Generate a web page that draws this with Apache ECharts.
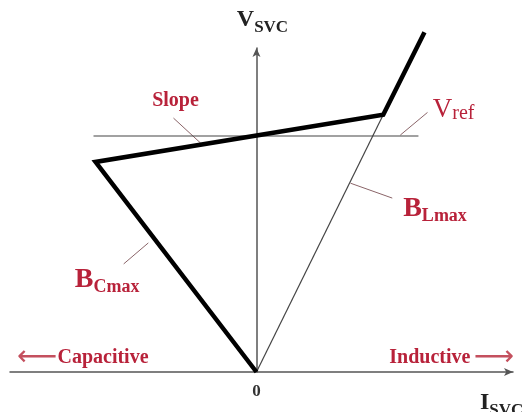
<!DOCTYPE html>
<html>
<head>
<meta charset="utf-8">
<script src="https://cdn.jsdelivr.net/npm/echarts@6/dist/echarts.min.js"></script>
<style>
html, body { margin: 0; padding: 0; background: #fff; }
#chart { width: 523px; height: 412px; }
</style>
</head>
<body>
<div id="chart"></div>
<script>
// SVC V-I characteristic (per-unit)
const currentPu = [0, -3.2, 2.52, 3.34]   // origin -> BCmax knee -> BLmax knee -> top
const voltagePu = [0, 0.89, 1.09, 1.44]
const vRef = 1.0
const vRefSpan = [-3.24, 3.22]
const bLmaxI = [0, 2.52]
const bLmaxV = [0, 1.09]
const xTickLabels = ['0']

const red = '#b8223a'
const serif = 'Liberation Serif'

const zip = (a, b) => a.map((v, i) => [v, b[i]])

// annotation anchors (data coords) and leader segments
const notes = [
  { value: [-1.61, 1.15], text: '{t|Slope}' },
  { value: [3.92, 1.11], text: '{big|V}{sub|ref}' },
  { value: [3.55, 0.686], text: '{bb|B}{bs|Lmax}' },
  { value: [-2.97, 0.386], text: '{bb|B}{bs|Cmax}' },
  { value: [-3.45, 0.062], text: '{a|⟵}{t|Capacitive}' },
  { value: [3.88, 0.062], text: '{t|Inductive} {a|⟶}' }
]
const leaders = [
  [[-1.65, 1.076], [-1.11, 0.97]],
  [[2.86, 1.004], [3.40, 1.10]],
  [[1.87, 0.80], [2.70, 0.737]],
  [[-2.64, 0.458], [-2.15, 0.547]]
]

const noteRich = {
  t: { fontFamily: serif, fontWeight: 'bold', fontSize: 20, color: red },
  a: { fontFamily: 'DejaVu Sans', fontSize: 28, color: '#c4505e' },
  big: { fontFamily: serif, fontSize: 27, color: red, verticalAlign: 'bottom' },
  sub: { fontFamily: serif, fontSize: 20, color: red, verticalAlign: 'bottom' },
  bb: { fontFamily: serif, fontWeight: 'bold', fontSize: 28, color: red, verticalAlign: 'bottom', padding: [0, 0, 2, 0] },
  bs: { fontFamily: serif, fontWeight: 'bold', fontSize: 18, color: red, verticalAlign: 'bottom' }
}

const chart = echarts.init(document.getElementById('chart'))
chart.setOption({
  animation: false,
  grid: { left: 10, right: 10, top: 48, bottom: 40, outerBoundsMode: 'none', containLabel: false },
  xAxis: {
    type: 'value', min: -4.9, max: 5.1,
    axisLine: { onZero: true, symbol: ['none', 'arrow'], symbolSize: [6, 9], lineStyle: { color: '#555', width: 1.5 } },
    axisTick: { show: false },
    splitLine: { show: false },
    axisLabel: {
      formatter: v => (v === 0 ? xTickLabels[0] : ''),
      fontFamily: serif, fontWeight: 'bold', fontSize: 17, color: '#333', margin: 11
    },
    name: '{i|I}{s|SVC}',
    nameLocation: 'end',
    nameGap: -33,
    nameTextStyle: {
      align: 'left', verticalAlign: 'top', padding: [19, 0, 0, 0],
      rich: {
        i: { fontFamily: serif, fontWeight: 'bold', fontSize: 24, color: '#222', verticalAlign: 'bottom', padding: [0, 0, 4, 0] },
        s: { fontFamily: serif, fontWeight: 'bold', fontSize: 17, color: '#222', verticalAlign: 'bottom' }
      }
    }
  },
  yAxis: {
    type: 'value', min: 0, max: 1.373,
    axisLine: { onZero: true, symbol: ['none', 'arrow'], symbolSize: [6, 9], lineStyle: { color: '#555', width: 1.5 } },
    axisTick: { show: false },
    splitLine: { show: false },
    axisLabel: { show: false },
    name: '{v|V}{s|SVC}',
    nameLocation: 'end',
    nameGap: 12,
    nameTextStyle: {
      align: 'center', padding: [0, 0, 0, 12],
      rich: {
        v: { fontFamily: serif, fontWeight: 'bold', fontSize: 24, color: '#222', verticalAlign: 'bottom', padding: [0, 0, 4, 0] },
        s: { fontFamily: serif, fontWeight: 'bold', fontSize: 17, color: '#222', verticalAlign: 'bottom' }
      }
    }
  },
  series: [
    {
      name: 'Vref', type: 'line', symbol: 'none', silent: true,
      data: [[vRefSpan[0], vRef], [vRefSpan[1], vRef]],
      lineStyle: { color: '#444', width: 1.2 }
    },
    {
      name: 'BLmax', type: 'line', symbol: 'none', silent: true,
      data: zip(bLmaxI, bLmaxV),
      lineStyle: { color: '#444', width: 1.2 }
    },
    {
      name: 'V-I', type: 'line', symbol: 'none', clip: false, silent: true,
      data: zip(currentPu, voltagePu),
      lineStyle: { color: '#000', width: 4.5, join: 'miter' },
      z: 3
    },
    {
      type: 'lines', coordinateSystem: 'cartesian2d', silent: true,
      data: leaders.map(c => ({ coords: c })),
      lineStyle: { color: '#8a6468', width: 1, opacity: 1 }
    },
    {
      type: 'scatter', symbolSize: 0, silent: true,
      data: notes.map(n => ({
        value: n.value,
        label: {
          show: true, position: 'inside', formatter: n.text, rich: noteRich,
          textBorderWidth: 0, opacity: 1
        }
      }))
    }
  ]
})
</script>
</body>
</html>
